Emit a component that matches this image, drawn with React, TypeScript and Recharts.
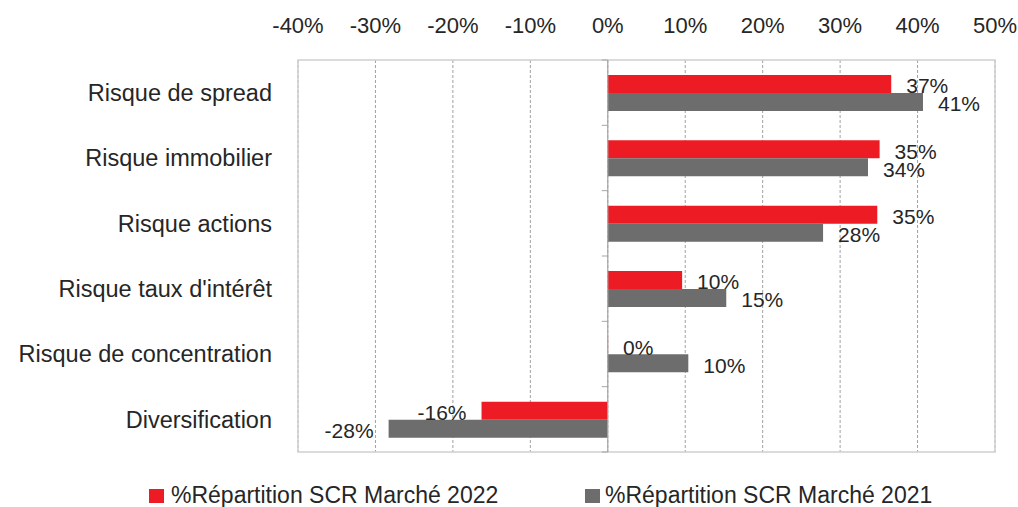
import React from 'react';
import {
  BarChart,
  Bar,
  XAxis,
  YAxis,
  CartesianGrid,
  ReferenceLine,
  ReferenceArea,
  LabelList,
  Legend,
} from 'recharts';

const categories = [
  'Risque de spread',
  'Risque immobilier',
  'Risque actions',
  "Risque taux d'intérêt",
  'Risque de concentration',
  'Diversification',
];
const values2022 = [0.366, 0.351, 0.348, 0.096, 0.0004, -0.163];
const values2021 = [0.407, 0.336, 0.278, 0.153, 0.104, -0.283];
const xTicks = [-0.4, -0.3, -0.2, -0.1, 0, 0.1, 0.2, 0.3, 0.4, 0.5];
const seriesNames = ['%Répartition SCR Marché 2022', '%Répartition SCR Marché 2021'];
const seriesColors = ['#ED1C24', '#6D6D6D'];

const data = categories.map((name, i) => ({
  name,
  v2022: values2022[i],
  v2021: values2021[i],
}));

const FONT = "'Liberation Sans', Arial, sans-serif";
const TEXT = '#262626';
const pct = (v: any) => `${Math.round(Number(v) * 100)}%`;

const ZeroAxis = (props: any) => {
  const { x1, y1, x2, y2 } = props;
  const top = Math.min(y1, y2);
  const bottom = Math.max(y1, y2);
  const n = categories.length;
  const step = (bottom - top) / n;
  const marks = [];
  for (let i = 0; i <= n; i++) {
    const y = top + step * i;
    marks.push(<line key={i} x1={x1 - 6} x2={x1} y1={y} y2={y} stroke="#A6A6A6" strokeWidth={1} />);
  }
  return (
    <g>
      <line x1={x1} y1={top} x2={x2} y2={bottom} stroke="#A6A6A6" strokeWidth={1.2} />
      {marks}
    </g>
  );
};

const LegendContent = () => (
  <div style={{ position: 'relative', width: 1018, height: 27, fontFamily: FONT, fontSize: 23, lineHeight: '27px', color: TEXT }}>
    <span style={{ position: 'absolute', left: 149, top: 7, width: 15, height: 14, background: seriesColors[0] }} />
    <span style={{ position: 'absolute', left: 171, top: 0, whiteSpace: 'nowrap' }}>{seriesNames[0]}</span>
    <span style={{ position: 'absolute', left: 585, top: 7, width: 15, height: 14, background: seriesColors[1] }} />
    <span style={{ position: 'absolute', left: 605, top: 0, whiteSpace: 'nowrap' }}>{seriesNames[1]}</span>
  </div>
);

export default function App() {
  return (
    <div style={{ position: 'absolute', left: 0, top: 0, width: 1018, height: 507, background: '#fff' }}>
      <BarChart
        width={1018}
        height={507}
        data={data}
        layout="vertical"
        margin={{ top: 0, right: 23, bottom: 55, left: 0 }}
        barGap={0}
        style={{ fontFamily: FONT }}
      >
        <CartesianGrid horizontal={false} vertical stroke="#A0A0A0" strokeDasharray="3 2" />
        <XAxis
          type="number"
          orientation="top"
          domain={[-0.4, 0.5]}
          ticks={xTicks}
          interval={0}
          tickFormatter={pct}
          axisLine={false}
          tickLine={false}
          tickSize={0}
          tickMargin={27}
          height={60}
          allowDataOverflow
          tick={{ fontSize: 22, fill: TEXT, fontFamily: FONT }}
        />
        <YAxis
          type="category"
          dataKey="name"
          width={298}
          interval={0}
          axisLine={false}
          tickLine={false}
          tickSize={0}
          tickMargin={26}
          tick={{ fontSize: 23.5, fill: TEXT, fontFamily: FONT }}
        />
        <ReferenceArea x1={-0.4} x2={0.5} fill="none" stroke="#D0D0D0" strokeWidth={1.5} ifOverflow="visible" />
        <Bar dataKey="v2022" name={seriesNames[0]} fill={seriesColors[0]} barSize={18} isAnimationActive={false}>
          <LabelList dataKey="v2022" position="right" offset={15} dy={2} formatter={pct} style={{ fontSize: 21, fill: TEXT, fontFamily: FONT }} />
        </Bar>
        <Bar dataKey="v2021" name={seriesNames[1]} fill={seriesColors[1]} barSize={18} isAnimationActive={false}>
          <LabelList dataKey="v2021" position="right" offset={15} dy={2} formatter={pct} style={{ fontSize: 21, fill: TEXT, fontFamily: FONT }} />
        </Bar>
        <ReferenceLine x={0} shape={ZeroAxis} ifOverflow="visible" />
        <Legend
          layout="horizontal"
          verticalAlign="middle"
          align="center"
          wrapperStyle={{ top: 482, left: 0, width: 1018, height: 27 }}
          content={() => <LegendContent />}
        />
      </BarChart>
    </div>
  );
}
